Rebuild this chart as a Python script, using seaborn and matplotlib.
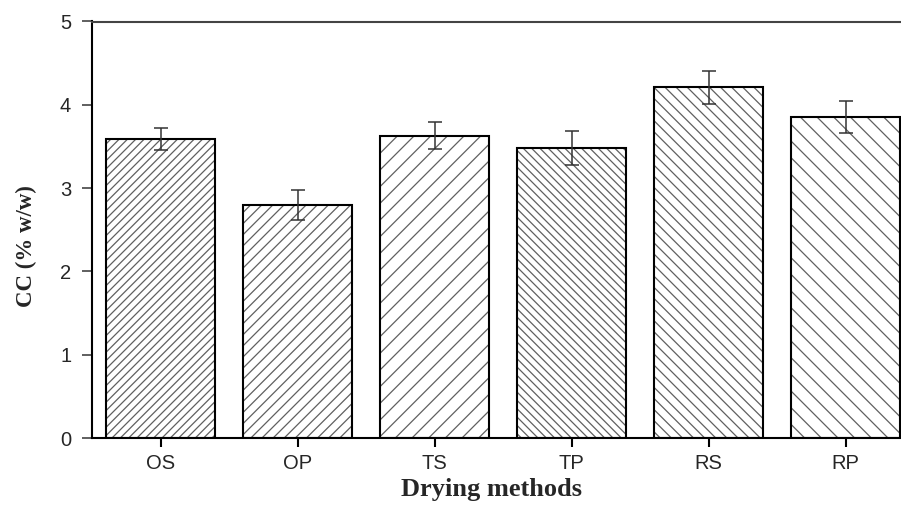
import matplotlib
matplotlib.use("Agg")
import matplotlib.pyplot as plt
import seaborn as sns
import pandas as pd
import numpy as np

methods = ["OS", "OP", "TS", "TP", "RS", "RP"]
cc_values = [3.59, 2.80, 3.63, 3.48, 4.21, 3.85]
cc_errors = [0.13, 0.18, 0.16, 0.20, 0.20, 0.19]
hatches = ["////", "///", "//", "\\\\\\\\", "\\\\\\", "\\\\"]

sns.set_theme(style="ticks")
plt.rcParams["font.family"] = ["Liberation Sans", "DejaVu Sans"]
plt.rcParams["hatch.linewidth"] = 0.9

df = pd.DataFrame({"method": methods, "cc": cc_values})

fig = plt.figure(figsize=(9.01, 5.05), dpi=100)
ax = fig.add_axes([92 / 901, 67 / 505, (914 - 92) / 901, (438 - 21.5) / 505])

sns.barplot(data=df, x="method", y="cc", color="white", edgecolor="#606060",
            linewidth=0, width=0.8, errorbar=None, ax=ax)
for patch, h in zip(ax.patches, hatches):
    patch.set_hatch(h)
    patch.set_facecolor("white")
sns.barplot(data=df, x="method", y="cc", color="black", fill=False,
            linewidth=1.5, width=0.8, errorbar=None, ax=ax)

ax.errorbar(x=np.arange(len(methods)), y=cc_values, yerr=cc_errors, fmt="none",
            ecolor="#333333", elinewidth=1.1, capsize=5, capthick=1.1)

ax.set_xlim(-0.5, 5.5)
ax.set_ylim(0, 5)
ax.set_yticks([0, 1, 2, 3, 4, 5])

for side in ["left", "bottom", "top", "right"]:
    ax.spines[side].set_visible(True)
    ax.spines[side].set_linewidth(1.5)
    ax.spines[side].set_color("black")
ax.spines["top"].set_color("#444444")

ax.tick_params(axis="y", direction="out", length=7, width=1.2, labelsize=14.5, pad=8, color="#444444")
ax.tick_params(axis="x", direction="out", length=6.5, width=1.5, labelsize=14.5, pad=5, color="black")

ax.set_xlabel("Drying methods", fontsize=19, fontweight="bold",
              family=["Liberation Serif", "DejaVu Serif"])
ax.xaxis.set_label_coords(0.486, -0.097)
ax.set_ylabel("CC (% w/w)", fontsize=16.5, fontweight="bold",
              family=["Liberation Serif", "DejaVu Serif"])
ax.yaxis.set_label_coords(-0.067, 0.461)

fig.savefig("out.png", dpi=100)
